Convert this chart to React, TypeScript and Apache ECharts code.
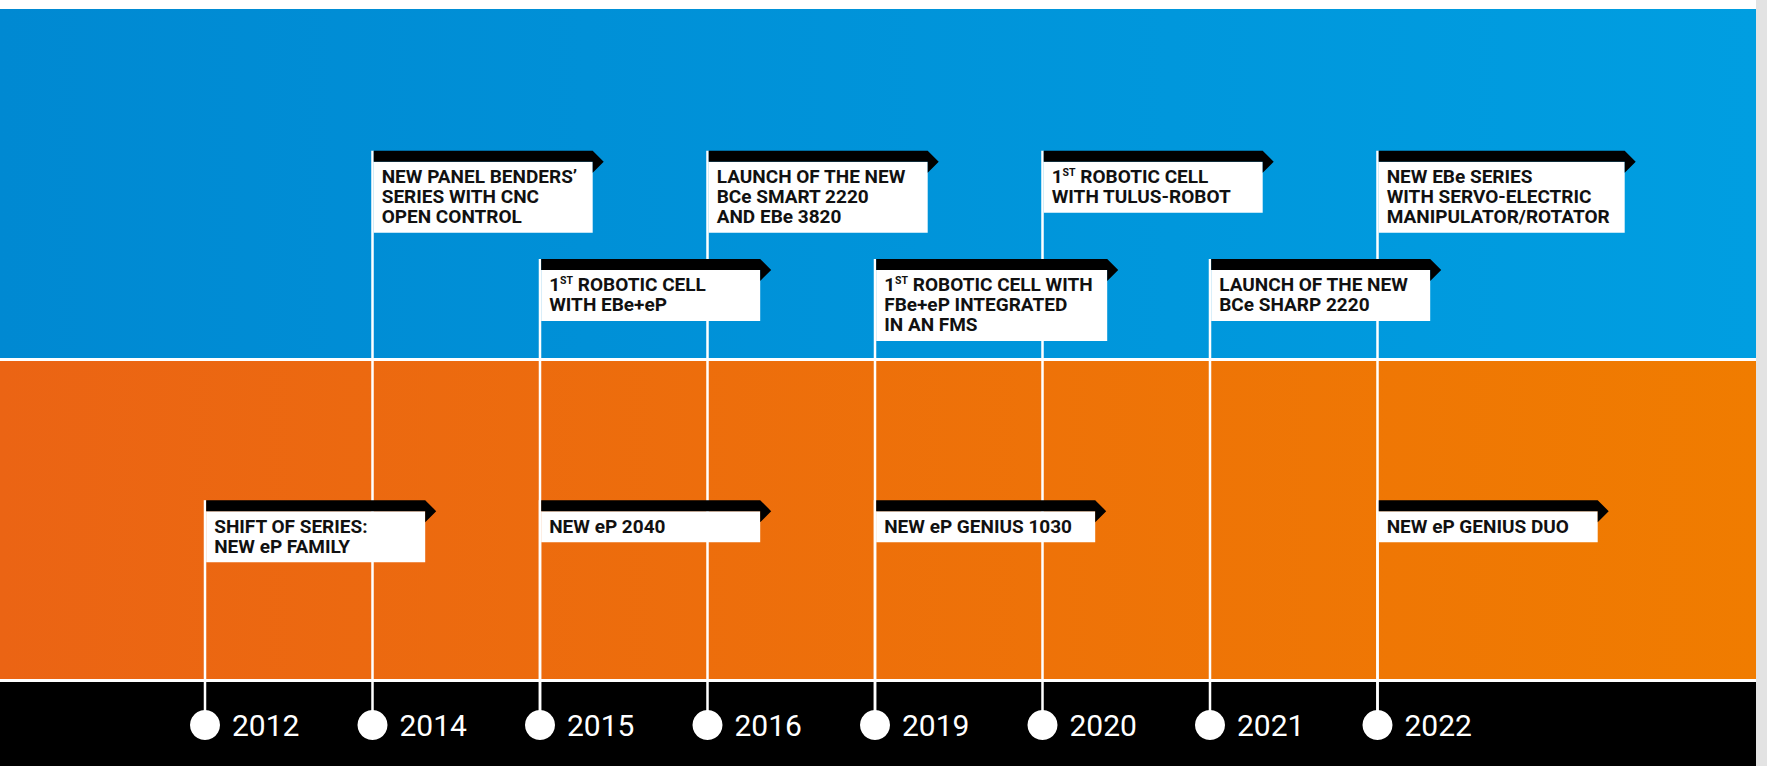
import React, { useEffect, useRef } from "react";
import * as echarts from "echarts";

// ---- data ----
const years = ["2012", "2014", "2015", "2016", "2019", "2020", "2021", "2022"];

// lanes: height of the flag pole top (percent of the timeline area)
const laneNames = ["upper", "middle", "lower"];
const laneLevels = [80.2, 65.1, 31.4];

const eventYears = ["2012", "2014", "2015", "2015", "2016", "2019", "2019", "2020", "2021", "2022", "2022"];
const eventLanes = ["lower", "upper", "middle", "lower", "upper", "middle", "lower", "upper", "middle", "upper", "lower"];
const eventTexts = [
  "SHIFT OF SERIES:\nNEW eP FAMILY",
  "NEW PANEL BENDERS\u2019\nSERIES WITH CNC\nOPEN CONTROL",
  "1^ST ROBOTIC CELL\nWITH EBe+eP",
  "NEW eP 2040",
  "LAUNCH OF THE NEW\nBCe SMART 2220\nAND EBe 3820",
  "1^ST ROBOTIC CELL WITH\nFBe+eP INTEGRATED\nIN AN FMS",
  "NEW eP GENIUS 1030",
  "1^ST ROBOTIC CELL\nWITH TULUS-ROBOT",
  "LAUNCH OF THE NEW\nBCe SHARP 2220",
  "NEW EBe SERIES\nWITH SERVO-ELECTRIC\nMANIPULATOR/ROTATOR",
  "NEW eP GENIUS DUO",
];

const FONT_FAMILY = "Roboto";
const FLAG_FONT_SIZE = 19;
const SUP_FONT_SIZE = 10.5;
const LINE_H = 20;
const BAR_H = 11;
const MIN_BOX_W = 219;

function measureLine(ctx: CanvasRenderingContext2D, line: string): number {
  const parts = line.split("^ST");
  let w = 0;
  ctx.font = `bold ${FLAG_FONT_SIZE}px ${FONT_FAMILY}`;
  parts.forEach((p) => (w += ctx.measureText(p).width));
  if (parts.length > 1) {
    ctx.font = `bold ${SUP_FONT_SIZE}px ${FONT_FAMILY}`;
    w += ctx.measureText("ST").width * (parts.length - 1);
  }
  return w;
}

export default function App() {
  const ref = useRef<HTMLDivElement>(null);

  useEffect(() => {
    if (!ref.current) return;
    const chart = echarts.init(ref.current, null, { renderer: "svg" });
    const W = 1767;
    const H = 766;

    const canvas = document.createElement("canvas");
    const ctx = canvas.getContext("2d") as CanvasRenderingContext2D;
    const boxWidths = eventTexts.map((t) => {
      const m = Math.max(...t.split("\n").map((l) => measureLine(ctx, l)));
      return Math.max(MIN_BOX_W, Math.ceil(m + 22));
    });

    const flagData = eventYears.map((y, i) => [years.indexOf(y), laneLevels[laneNames.indexOf(eventLanes[i])], i]);

    const option: any = {
      animation: false,
      backgroundColor: "#ffffff",
      grid: { left: 121.25, right: W - 1461.25, top: 9, bottom: H - 725, containLabel: false, outerBoundsMode: "none" },
      xAxis: {
        type: "category",
        data: years,
        boundaryGap: true,
        axisLine: { show: false },
        axisTick: { show: false },
        splitLine: { show: false },
        axisLabel: {
          interval: 0,
          color: "#ffffff",
          fontFamily: FONT_FAMILY,
          fontSize: 30,
          fontWeight: "normal",
          align: "left",
          verticalAlign: "middle",
          margin: 0,
          padding: [0, 0, 0, 27],
        },
      },
      yAxis: { type: "value", min: 0, max: 100, show: false },
      graphic: [
        {
          type: "rect",
          z: 0,
          silent: true,
          shape: { x: 0, y: 9, width: 1756, height: 349 },
          style: {
            fill: new echarts.graphic.LinearGradient(0, 0, 1, 0, [
              { offset: 0, color: "#0089d2" },
              { offset: 1, color: "#009ee1" },
            ]),
          },
        },
        {
          type: "rect",
          z: 0,
          silent: true,
          shape: { x: 0, y: 361, width: 1756, height: 318 },
          style: {
            fill: new echarts.graphic.LinearGradient(0, 0, 1, 0, [
              { offset: 0, color: "#eb6414" },
              { offset: 1, color: "#f07c00" },
            ]),
          },
        },
        { type: "rect", z: 0, silent: true, shape: { x: 0, y: 682, width: 1756, height: 84 }, style: { fill: "#000000" } },
        { type: "rect", z: 0, silent: true, shape: { x: 1756, y: 0, width: 11, height: 766 }, style: { fill: "#e3e3e3" } },
      ],
      series: [
        {
          type: "custom",
          name: "stems",
          z: 2,
          silent: true,
          clip: false,
          data: flagData,
          renderItem: (params: any, api: any) => {
            const top = api.coord([api.value(0), api.value(1)]);
            const base = api.coord([api.value(0), 0]);
            return {
              type: "line",
              shape: { x1: top[0], y1: top[1], x2: base[0], y2: base[1] },
              style: { stroke: "#ffffff", lineWidth: 2.5 },
            };
          },
        },
        {
          type: "scatter",
          name: "years",
          z: 3,
          clip: false,
          silent: true,
          symbol: "circle",
          symbolSize: 30,
          itemStyle: { color: "#ffffff", opacity: 1 },
          data: years.map((_, i) => [i, 0]),
        },
        {
          type: "custom",
          name: "flags",
          z: 4,
          silent: true,
          clip: false,
          data: flagData,
          renderItem: (params: any, api: any) => {
            const i = api.value(2);
            const p = api.coord([api.value(0), api.value(1)]);
            const left = p[0] + 1.2;
            const top = p[1];
            const w = boxWidths[i];
            const text = eventTexts[i];
            const nLines = text.split("\n").length;
            const richText = text.replace(/\^ST/g, "{s|ST}");
            return {
              type: "group",
              children: [
                {
                  type: "rect",
                  shape: { x: left, y: top + BAR_H, width: w, height: nLines * LINE_H + 11 },
                  style: { fill: "#ffffff" },
                },
                {
                  type: "polygon",
                  shape: {
                    points: [
                      [left, top],
                      [left + w, top],
                      [left + w + BAR_H, top + BAR_H],
                      [left + w, top + 2 * BAR_H],
                      [left + w, top + BAR_H],
                      [left, top + BAR_H],
                    ],
                  },
                  style: { fill: "#000000" },
                },
                {
                  type: "text",
                  x: left + 8,
                  y: top + BAR_H + 5,
                  style: {
                    text: richText,
                    fill: "#111111",
                    fontFamily: FONT_FAMILY,
                    fontSize: FLAG_FONT_SIZE,
                    fontWeight: "bold",
                    lineHeight: LINE_H,
                    align: "left",
                    verticalAlign: "top",
                    rich: {
                      s: {
                        fontFamily: FONT_FAMILY,
                        fontSize: SUP_FONT_SIZE,
                        fontWeight: "bold",
                        fill: "#111111",
                        lineHeight: 12,
                        verticalAlign: "top",
                      },
                    },
                  },
                },
              ],
            };
          },
        },
      ],
    };

    chart.setOption(option);
    return () => chart.dispose();
  }, []);

  return <div ref={ref} style={{ position: "fixed", left: 0, top: 0, width: "1767px", height: "766px" }} />;
}
